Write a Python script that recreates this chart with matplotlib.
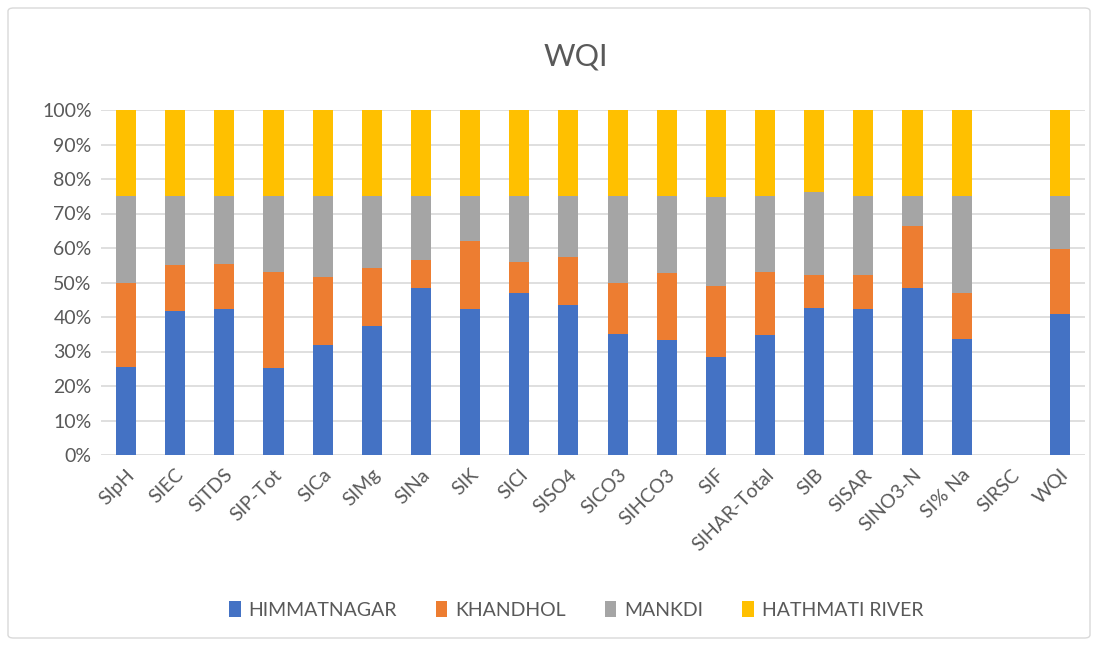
import matplotlib
matplotlib.use("Agg")
import matplotlib.pyplot as plt
import numpy as np
from matplotlib.patches import FancyBboxPatch

categories = ["SIpH", "SIEC", "SITDS", "SIP-Tot", "SICa", "SIMg", "SINa", "SIK", "SICl",
              "SISO4", "SICO3", "SIHCO3", "SIF", "SIHAR-Total", "SIB", "SISAR", "SINO3-N",
              "SI% Na", "SIRSC", "WQI"]
himmatnagar = [25.5, 41.8, 42.2, 25.1, 31.8, 37.5, 48.3, 42.3, 47.1, 43.4, 35.1, 33.3, 28.5, 34.8, 42.7, 42.3, 48.3, 33.7, 0, 40.8]
khandhol = [24.5, 13.2, 13.1, 27.9, 19.8, 16.7, 8.1, 19.8, 8.9, 14.1, 14.9, 19.4, 20.4, 18.2, 9.6, 10.0, 18.2, 13.4, 0, 19.0]
mankdi = [25.0, 20.0, 19.7, 22.0, 23.4, 20.8, 18.6, 12.9, 19.0, 17.5, 25.0, 22.3, 25.8, 22.0, 23.9, 22.7, 8.5, 27.9, 0, 15.2]
hathmati = [25.0, 25.0, 25.0, 25.0, 25.0, 25.0, 25.0, 25.0, 25.0, 25.0, 25.0, 25.0, 25.3, 25.0, 23.8, 25.0, 25.0, 25.0, 0, 25.0]
series_names = ["HIMMATNAGAR", "KHANDHOL", "MANKDI", "HATHMATI RIVER"]
colors = ["#4472C4", "#ED7D31", "#A5A5A5", "#FFC000"]
yticks = [0, 10, 20, 30, 40, 50, 60, 70, 80, 90, 100]

plt.rcParams['font.family'] = ['Lato', 'DejaVu Sans']

fig = plt.figure(figsize=(10.98, 6.46), dpi=100)
ax = fig.add_axes([101.4/1098, 1 - 455/646, (1084.6 - 101.4)/1098, (455 - 110)/646])

x = np.arange(len(categories))
data = [himmatnagar, khandhol, mankdi, hathmati]
bottom = np.zeros(len(categories))
for vals, name, c in zip(data, series_names, colors):
    v = np.array(vals, dtype=float)
    ax.bar(x, v, bottom=bottom, width=0.41, color=c, label=name, zorder=3)
    bottom += v

ax.set_xlim(-0.5, len(categories) - 0.5)
ax.set_ylim(0, 100)
ax.set_yticks(yticks)
ax.set_yticklabels([f"{t}%" for t in yticks], fontsize=14, color="#595959")
ax.set_xticks(x)
ax.set_xticklabels(categories, rotation=45, ha="right", rotation_mode="anchor",
                   fontsize=14, color="#595959")
ax.tick_params(axis="both", length=0)
ax.tick_params(axis="x", pad=8)
ax.tick_params(axis="y", pad=7)
ax.grid(axis="y", color="#D9D9D9", linewidth=1.2, zorder=0)
for s in ax.spines.values():
    s.set_visible(False)

fig.text(576/1098, 1 - 57/646, "WQI", ha="center", va="center", fontsize=22, color="#595959")

handles, labels = ax.get_legend_handles_labels()
fig.legend(handles, labels, loc="center", bbox_to_anchor=(576/1098, 1 - 610/646), ncol=4,
           frameon=False, fontsize=14, handlelength=0.6, handleheight=0.9, handletextpad=0.4,
           columnspacing=2.0, labelcolor="#595959")

border = FancyBboxPatch((8/1098, 8/646), 1 - 16/1098, 1 - 16/646,
                        boxstyle="round,pad=0,rounding_size=0.005",
                        transform=fig.transFigure, fill=False, edgecolor="#D9D9D9", linewidth=1)
fig.patches.append(border)

fig.savefig("out.png", dpi=100)
